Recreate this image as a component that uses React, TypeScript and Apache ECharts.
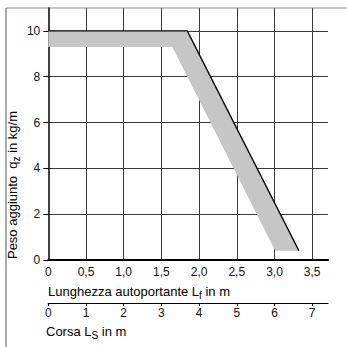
import React, { useEffect, useRef } from "react";
import * as echarts from "echarts";

// Lf axis (Lunghezza autoportante, m)
const lfTicks = [0, 0.5, 1, 1.5, 2, 2.5, 3, 3.5];
const lfLabels = ["0", "0,5", "1,0", "1,5", "2,0", "2,5", "3,0", "3,5"];
const lfMax = 3.71;
// Ls axis (Corsa, m)
const lsTicks = [0, 1, 2, 3, 4, 5, 6, 7];
const lsMax = 7.42;
// q axis (Peso aggiunto, kg/m)
const qTicks = [0, 2, 4, 6, 8, 10];
const qMax = 11;

// limit curve (black line)
const limitLine: number[][] = [
  [0, 10],
  [1.843, 10],
  [3.325, 0.4],
];
// grey band vertices
const bandPolygon: number[][] = [
  [0, 10],
  [1.843, 10],
  [3.325, 0.4],
  [3.01, 0.4],
  [1.645, 9.3],
  [0, 9.3],
];

const FONT = "'Liberation Sans', Arial, sans-serif";

export default function App() {
  const ref = useRef<HTMLDivElement>(null);
  useEffect(() => {
    if (!ref.current) return;
    const chart = echarts.init(ref.current, undefined, { renderer: "svg" });
    const gridColor = "#3a3a3a";
    const subRich = {
      a: { fontSize: 13, fontFamily: FONT, color: "#111", lineHeight: 15, verticalAlign: "top" },
      s: { fontSize: 10, fontFamily: FONT, color: "#111", lineHeight: 11, padding: [6, 0, 0, 0], verticalAlign: "top" },
    };
    chart.setOption({
      animation: false,
      backgroundColor: "#ffffff",
      textStyle: { fontFamily: FONT },
      grid: { left: 48.3, right: 19, top: 8, bottom: 87, containLabel: false },
      xAxis: [
        {
          type: "value",
          min: 0,
          max: lfMax,
          interval: 0.5,
          position: "bottom",
          axisLine: { show: true, onZero: false, lineStyle: { color: "#000", width: 2 } },
          axisTick: { show: false, customValues: lfTicks },
          axisLabel: {
            customValues: lfTicks,
            margin: 6,
            fontSize: 12,
            fontFamily: FONT,
            color: "#111",
            formatter: (v: number) => {
              const i = lfTicks.indexOf(v);
              return i >= 0 ? lfLabels[i] : "";
            },
          },
          splitLine: {
            show: true,
            showMinLine: false,
            showMaxLine: true,
            lineStyle: { color: gridColor, width: 1 },
          },
        },
        {
          type: "value",
          min: 0,
          max: lsMax,
          interval: 1,
          position: "bottom",
          offset: 43,
          axisLine: { show: true, onZero: false, lineStyle: { color: "#000", width: 1.2 } },
          axisTick: { show: true, customValues: lsTicks, length: 3, lineStyle: { color: "#000" } },
          axisLabel: {
            customValues: lsTicks,
            margin: 4,
            fontSize: 12,
            fontFamily: FONT,
            color: "#111",
          },
          splitLine: { show: false },
        },
      ],
      yAxis: {
        type: "value",
        min: 0,
        max: qMax,
        interval: 2,
        position: "left",
        axisLine: { show: true, onZero: false, lineStyle: { color: "#000", width: 1.5 } },
        axisTick: { show: true, customValues: qTicks, length: 5, lineStyle: { color: "#000" } },
        axisLabel: {
          customValues: qTicks,
          margin: 8,
          fontSize: 12,
          fontFamily: FONT,
          color: "#111",
        },
        splitLine: {
          show: true,
          showMinLine: false,
          showMaxLine: true,
          lineStyle: { color: gridColor, width: 1 },
        },
      },
      series: [
        {
          type: "custom",
          xAxisIndex: 0,
          yAxisIndex: 0,
          data: [bandPolygon[0]],
          z: 3,
          silent: true,
          renderItem: (_params: any, api: any) => {
            const pts = bandPolygon.map((p) => api.coord(p));
            return {
              type: "polygon",
              shape: { points: pts },
              style: { fill: "#c6c6c6", stroke: "none" },
            };
          },
        },
        {
          type: "line",
          xAxisIndex: 0,
          yAxisIndex: 0,
          data: limitLine,
          showSymbol: false,
          symbol: "none",
          z: 4,
          lineStyle: { color: "#000", width: 1.3 },
        },
      ],
      graphic: [
        {
          type: "line",
          z: -1,
          shape: { x1: 6, y1: 8, x2: 347, y2: 8 },
          style: { stroke: "#8a8a8a", lineWidth: 1.2 },
        },
        {
          type: "line",
          z: -1,
          shape: { x1: 6, y1: 8, x2: 6, y2: 347 },
          style: { stroke: "#555", lineWidth: 1 },
        },
        {
          type: "text",
          x: 48,
          y: 292,
          style: {
            text: "{a|Lunghezza autoportante L}{s|f}{a| in m}",
            rich: subRich,
            textAlign: "left",
            textVerticalAlign: "middle",
          },
        },
        {
          type: "text",
          x: 46,
          y: 332,
          style: {
            text: "{a|Corsa L}{s|S}{a| in m}",
            rich: subRich,
            textAlign: "left",
            textVerticalAlign: "middle",
          },
        },
        {
          type: "text",
          x: 13,
          y: 185,
          rotation: Math.PI / 2,
          style: {
            text: "{a|Peso aggiunto  q}{s|z}{a| in kg/m}",
            rich: subRich,
            textAlign: "center",
            textVerticalAlign: "middle",
          },
        },
      ],
    });
    return () => chart.dispose();
  }, []);
  return (
    <div
      ref={ref}
      style={{ position: "fixed", left: 0, top: 0, width: 347, height: 347, background: "#fff" }}
    />
  );
}
